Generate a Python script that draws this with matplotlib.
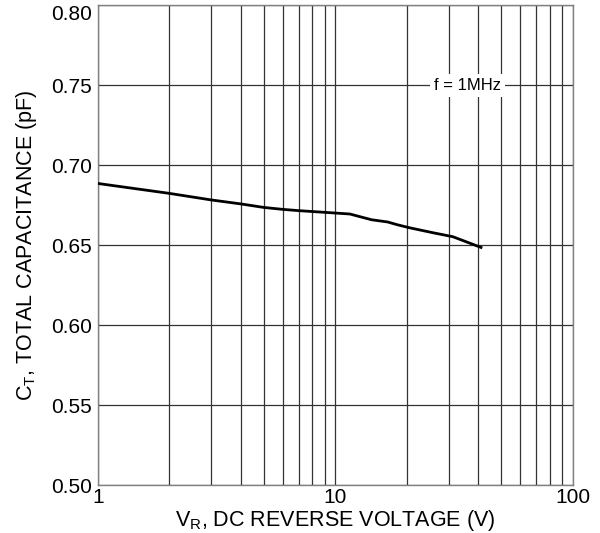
import matplotlib
matplotlib.use("Agg")
import matplotlib.pyplot as plt
from matplotlib.ticker import FixedLocator, NullFormatter, FixedFormatter

plt.rcParams['font.family'] = ['Liberation Sans', 'DejaVu Sans']

vr = [1, 2, 3, 4, 5, 6, 7, 10, 11.5, 14.2, 16.6, 18.2, 20.5, 25.7, 31.2, 41]
ct = [0.6886, 0.6824, 0.6783, 0.6758, 0.6736, 0.6724, 0.6716, 0.6701, 0.6695,
      0.6659, 0.6645, 0.6628, 0.6609, 0.6578, 0.6553, 0.6486]

xticks = [1, 10, 100]
xtick_labels = ['1', '10', '100']
yticks = [0.50, 0.55, 0.60, 0.65, 0.70, 0.75, 0.80]
ytick_labels = ['0.50', '0.55', '0.60', '0.65', '0.70', '0.75', '0.80']

fig = plt.figure(figsize=(6, 5.33), dpi=100)
ax = fig.add_axes([0.163, 0.09, 0.792, 0.9])
ax.set_xscale('log')
ax.set_xlim(1, 100)
ax.set_ylim(0.50, 0.80)

ax.xaxis.set_major_locator(FixedLocator(xticks))
ax.xaxis.set_major_formatter(FixedFormatter(xtick_labels))
minors = [m * d for d in (1, 10) for m in range(2, 10)]
ax.xaxis.set_minor_locator(FixedLocator(minors))
ax.xaxis.set_minor_formatter(NullFormatter())
ax.yaxis.set_major_locator(FixedLocator(yticks))
ax.yaxis.set_major_formatter(FixedFormatter(ytick_labels))

ax.grid(True, which='both', axis='x', color='#333333', linewidth=0.9)
ax.grid(True, which='major', axis='y', color='#333333', linewidth=0.9)
ax.tick_params(which='both', length=0, labelsize=15)
ax.tick_params(axis='y', pad=4)
ax.tick_params(axis='x', pad=2)
for s in ax.spines.values():
    s.set_color('#808080')
    s.set_linewidth(1.0)

# keep the top label inside the figure, as in the reference
ax.yaxis.get_major_ticks()[-1].label1.set_verticalalignment('top')

ax.plot(vr, ct, color='black', linewidth=2.0, zorder=3)

ax.text(36, 0.75, 'f = 1MHz', ha='center', va='center', fontsize=12,
        bbox=dict(facecolor='white', edgecolor='none', pad=3), zorder=4)

ax.set_xlabel('V$_\\mathregular{R}$, DC REVERSE VOLTAGE (V)', fontsize=15.5, labelpad=1)
ax.set_ylabel('C$_\\mathregular{T}$, TOTAL CAPACITANCE (pF)', fontsize=15.5, labelpad=9)

fig.savefig('out.png', dpi=100)
